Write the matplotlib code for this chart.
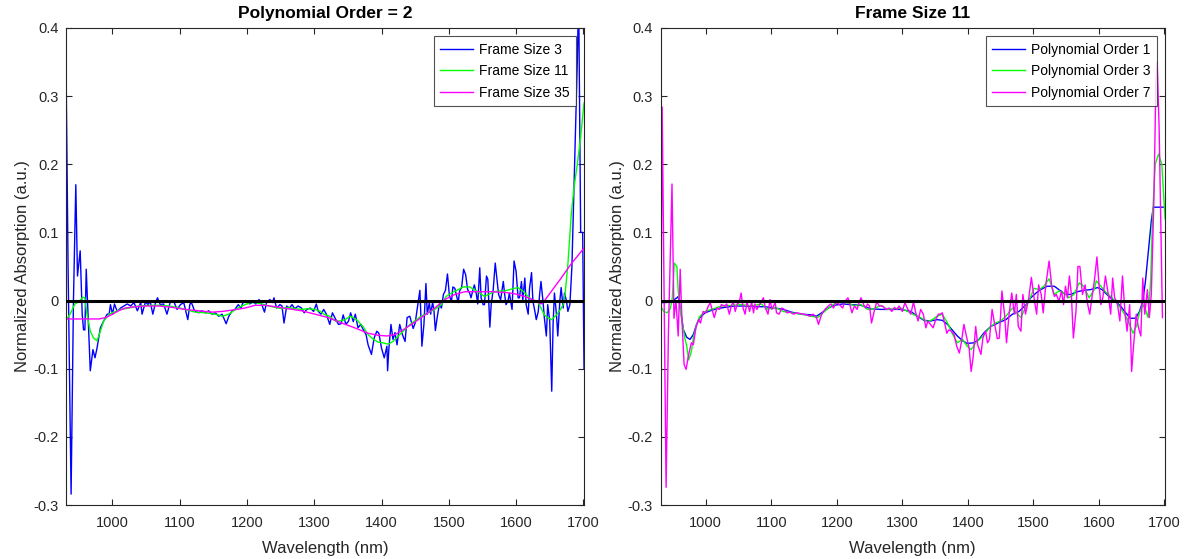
import matplotlib
matplotlib.use('Agg')
import matplotlib.pyplot as plt

plt.rcParams['font.family'] = ['Liberation Sans', 'DejaVu Sans']

# ---- left panel: polynomial order 2, different frame sizes ----
wl_fs3 = [931, 934, 938.5, 942, 945.5, 948, 952, 955, 957, 959, 961, 964, 967, 971, 974, 977, 982, 987, 992, 995,
          997, 1000, 1003, 1007, 1012, 1017, 1022, 1027, 1032, 1037, 1042, 1044, 1049, 1053, 1056, 1060, 1064, 1067,
          1071, 1076, 1081, 1086, 1091, 1096, 1101, 1106, 1112, 1115, 1117, 1122, 1128, 1133, 1138, 1143, 1148, 1153,
          1158, 1163, 1169, 1173, 1178, 1182, 1187, 1191, 1194, 1199, 1204, 1209, 1213, 1218, 1222, 1226, 1229, 1234,
          1238, 1240, 1244, 1249, 1252, 1255, 1259, 1263, 1267, 1271, 1276, 1281, 1285, 1289, 1294, 1299, 1303, 1306,
          1310, 1314, 1318, 1323, 1327, 1331, 1336, 1340, 1343, 1347, 1351, 1354, 1358, 1361, 1365, 1369, 1373, 1377,
          1380, 1385, 1389, 1393, 1396, 1400, 1404, 1408, 1409, 1411, 1414, 1417, 1420, 1423, 1427, 1431, 1435, 1438,
          1442, 1447, 1450, 1454, 1457, 1459, 1460, 1463, 1466, 1468, 1471, 1473, 1476, 1478, 1480, 1483, 1486, 1489,
          1492, 1495, 1498, 1501, 1504, 1506, 1509, 1511, 1514, 1516, 1519, 1522, 1525, 1528, 1531, 1533, 1536, 1538,
          1541, 1543, 1546, 1548, 1551, 1553, 1556, 1558, 1561, 1563, 1566, 1569, 1572, 1574, 1577, 1581, 1583, 1585,
          1588, 1590, 1594, 1597, 1600, 1603, 1605, 1608, 1610, 1613, 1615, 1618, 1620, 1623, 1625, 1628, 1630, 1633,
          1635, 1637, 1640, 1642, 1645, 1647, 1650, 1653, 1655, 1657, 1660, 1662, 1665, 1667, 1670, 1672, 1675, 1677,
          1680, 1683, 1687, 1691, 1693, 1696, 1699, 1701]
fs3 = [0.343, 0.05, -0.284, 0.0, 0.17, 0.036, 0.073, -0.02, -0.043, -0.043, 0.046, -0.03, -0.103, -0.072, -0.084,
       -0.070, -0.040, -0.030, -0.020, -0.020, -0.006, -0.020, -0.005, -0.016, -0.011, -0.008, -0.005, -0.008, -0.003,
       -0.015, -0.003, -0.020, -0.002, -0.006, -0.001, -0.020, -0.003, 0.004, -0.006, -0.005, -0.020, -0.002, -0.001,
       -0.013, -0.006, -0.003, -0.028, -0.006, -0.002, -0.015, -0.018, -0.015, -0.018, -0.015, -0.020, -0.018, -0.023,
       -0.020, -0.034, -0.023, -0.015, -0.013, -0.006, -0.011, -0.003, -0.002, -0.005, -0.002, -0.005, 0.0015, -0.006,
       -0.017, -0.003, 0.0015, -0.003, 0.004, -0.011, -0.006, -0.008, -0.033, -0.008, -0.011, -0.006, -0.012, -0.008,
       -0.011, -0.018, -0.013, -0.011, -0.016, -0.005, -0.016, -0.020, -0.013, -0.020, -0.035, -0.018, -0.026, -0.035,
       -0.034, -0.021, -0.035, -0.030, -0.018, -0.031, -0.020, -0.040, -0.035, -0.043, -0.050, -0.065, -0.079, -0.055,
       -0.045, -0.048, -0.070, -0.084, -0.067, -0.103, -0.069, -0.035, -0.057, -0.047, -0.065, -0.035, -0.050, -0.060,
       -0.025, -0.023, -0.041, -0.033, -0.006, 0.015, -0.035, -0.067, -0.035, 0.025, -0.020, -0.003, -0.020, -0.002,
       -0.016, -0.044, -0.023, -0.005, -0.011, 0.009, 0.015, 0.039, 0.006, -0.001, 0.020, 0.018, 0.009, -0.003, 0.014,
       0.019, 0.046, 0.038, 0.016, 0.011, 0.004, 0.016, 0.023, 0.009, -0.005, 0.048, 0.004, -0.006, -0.006, 0.036,
       0.031, -0.039, -0.006, 0.016, 0.055, 0.028, 0.009, 0.001, 0.028, 0.009, -0.006, -0.001, 0.011, -0.013, 0.058,
       0.043, 0.004, 0.004, 0.028, 0.001, 0.033, -0.006, -0.020, 0.018, 0.041, -0.001, -0.016, -0.028, -0.016, 0.009,
       0.028, -0.001, -0.025, -0.052, -0.006, -0.030, -0.133, -0.035, 0.011, -0.020, -0.052, -0.001, 0.019, -0.011,
       0.011, -0.001, -0.016, -0.006, 0.05, 0.2, 0.35, 0.45, 0.10, 0.10, -0.10]

wl_fs11 = [931, 938, 944, 950, 956, 959, 962, 967, 972, 977, 982, 987, 995, 1002, 1012, 1024, 1039, 1054, 1069, 1084,
           1096, 1108, 1123, 1138, 1153, 1163, 1173, 1183, 1192, 1205, 1212, 1222, 1232, 1242, 1252, 1261, 1271,
           1281, 1291, 1301, 1309, 1316, 1323, 1331, 1338, 1346, 1353, 1358, 1365, 1373, 1380, 1388, 1395, 1402,
           1410, 1417, 1425, 1432, 1440, 1449, 1459, 1469, 1479, 1489, 1496, 1504, 1514, 1521, 1531, 1538, 1546,
           1553, 1561, 1568, 1576, 1583, 1590, 1598, 1603, 1610, 1618, 1625, 1633, 1637, 1642, 1647, 1653, 1660,
           1666, 1670, 1673, 1677, 1682, 1686, 1691, 1696, 1701]
fs11 = [-0.029, -0.018, -0.005, -0.002, 0.005, 0.004, -0.020, -0.045, -0.055, -0.059, -0.045, -0.030, -0.020, -0.017,
        -0.013, -0.011, -0.008, -0.007, -0.007, -0.008, -0.010, -0.013, -0.017, -0.018, -0.020, -0.023, -0.020, -0.013,
        -0.008, -0.003, -0.003, -0.005, -0.008, -0.010, -0.012, -0.010, -0.012, -0.013, -0.012, -0.013, -0.016, -0.021,
        -0.023, -0.030, -0.030, -0.028, -0.023, -0.025, -0.030, -0.039, -0.050, -0.057, -0.061, -0.062, -0.064, -0.060,
        -0.052, -0.045, -0.037, -0.030, -0.023, -0.018, -0.013, -0.006, 0.006, 0.011, 0.016, 0.020, 0.020, 0.016, 0.011,
        0.006, 0.010, 0.013, 0.014, 0.014, 0.016, 0.018, 0.019, 0.014, 0.006, 0.0, -0.003, -0.011, -0.021, -0.025,
        -0.028, -0.021, -0.013, -0.006, 0.011, 0.053, 0.126, 0.165, 0.20, 0.24, 0.29]

wl_fs35 = [931, 950, 980, 990, 1000, 1009, 1019, 1034, 1049, 1069, 1089, 1108, 1128, 1148, 1163, 1178, 1197, 1212,
           1227, 1242, 1261, 1281, 1301, 1321, 1341, 1360, 1380, 1395, 1408, 1420, 1432, 1446, 1459, 1479, 1494,
           1509, 1524, 1543, 1563, 1583, 1598, 1613, 1628, 1637, 1641, 1652, 1667, 1682, 1701]
fs35 = [-0.027, -0.027, -0.027, -0.025, -0.020, -0.015, -0.011, -0.009, -0.008, -0.008, -0.010, -0.013, -0.015,
        -0.017, -0.016, -0.014, -0.011, -0.007, -0.007, -0.009, -0.012, -0.015, -0.020, -0.025, -0.033, -0.040, -0.048,
        -0.051, -0.052, -0.050, -0.043, -0.034, -0.025, -0.011, 0.0015, 0.009, 0.013, 0.013, 0.013, 0.012, 0.010,
        0.006, 0.0, -0.005, -0.002, 0.013, 0.033, 0.054, 0.077]

# ---- right panel: frame size 11, different polynomial orders ----
wl_po1 = [931, 938, 946, 952, 956, 958, 962, 966, 971, 976, 981, 986, 991, 999, 1007, 1017, 1029, 1045, 1060, 1075,
          1090, 1106, 1118, 1131, 1146, 1161, 1169, 1177, 1187, 1196, 1209, 1222, 1237, 1252, 1267, 1282, 1298, 1313,
          1323, 1333, 1343, 1353, 1361, 1369, 1376, 1384, 1392, 1399, 1409, 1417, 1425, 1435, 1448, 1458, 1468, 1478,
          1489, 1496, 1504, 1511, 1521, 1532, 1539, 1549, 1557, 1567, 1577, 1587, 1598, 1605, 1610, 1618, 1626, 1633,
          1641, 1648, 1656, 1662, 1667, 1671, 1676, 1680, 1683, 1701]
po1 = [-0.003, -0.003, -0.002, 0.0015, 0.004, 0.006, -0.016, -0.043, -0.054, -0.057, -0.050, -0.035, -0.025, -0.018,
       -0.015, -0.012, -0.010, -0.008, -0.008, -0.009, -0.009, -0.011, -0.013, -0.017, -0.020, -0.021, -0.023, -0.018,
       -0.011, -0.007, -0.005, -0.006, -0.007, -0.012, -0.013, -0.013, -0.013, -0.016, -0.023, -0.029, -0.030, -0.028,
       -0.029, -0.035, -0.043, -0.052, -0.059, -0.063, -0.062, -0.057, -0.047, -0.038, -0.032, -0.028, -0.020, -0.016,
       -0.006, 0.004, 0.011, 0.016, 0.021, 0.021, 0.016, 0.009, 0.009, 0.013, 0.015, 0.016, 0.019, 0.016, 0.011, 0.004,
       -0.002, -0.008, -0.018, -0.026, -0.026, -0.016, -0.001, 0.028, 0.077, 0.117, 0.137, 0.137]

wl_po3 = [931, 936, 941, 946, 949, 952, 956, 958, 962, 968, 971, 974, 978, 981, 986, 991, 999, 1012, 1024, 1040, 1055,
          1070, 1085, 1095, 1106, 1118, 1131, 1146, 1161, 1171, 1179, 1187, 1196, 1206, 1216, 1227, 1237, 1247, 1257,
          1267, 1277, 1288, 1298, 1308, 1318, 1328, 1338, 1346, 1353, 1361, 1369, 1376, 1384, 1392, 1399, 1405, 1412,
          1420, 1427, 1435, 1442, 1450, 1458, 1468, 1476, 1481, 1489, 1496, 1501, 1509, 1516, 1524, 1532, 1539, 1547,
          1554, 1562, 1570, 1577, 1585, 1593, 1596, 1603, 1610, 1618, 1626, 1633, 1641, 1647, 1652, 1657, 1662, 1667,
          1671, 1675, 1679, 1682, 1686, 1691, 1696, 1701]
po3 = [-0.008, -0.016, -0.018, -0.012, 0.004, 0.055, 0.050, 0.014, -0.020, -0.055, -0.067, -0.087, -0.075, -0.055,
       -0.035, -0.023, -0.016, -0.012, -0.008, -0.007, -0.006, -0.008, -0.005, -0.013, -0.010, -0.016, -0.018, -0.020,
       -0.023, -0.025, -0.018, -0.011, -0.005, -0.002, -0.003, -0.008, -0.006, -0.013, -0.012, -0.007, -0.013, -0.012,
       -0.011, -0.016, -0.021, -0.025, -0.031, -0.028, -0.023, -0.020, -0.033, -0.048, -0.062, -0.057, -0.067, -0.072,
       -0.062, -0.055, -0.047, -0.038, -0.033, -0.030, -0.023, -0.011, -0.020, -0.025, -0.008, 0.006, 0.018, 0.016,
       0.021, 0.032, 0.009, 0.014, 0.011, 0.004, 0.009, 0.026, 0.021, 0.004, 0.016, 0.029, 0.021, 0.013, 0.006,
       -0.002, -0.011, -0.023, -0.035, -0.048, -0.038, -0.018, -0.006, -0.013, -0.025, 0.029, 0.126, 0.20, 0.215,
       0.20, 0.12]

wl_po7 = [931, 933.5, 939.5, 943, 948.5, 951.5, 954.5, 958, 961, 963.5, 967, 970, 974, 978, 981, 985, 989, 992, 996,
          1000, 1004, 1007, 1009, 1013, 1017, 1021, 1024, 1029, 1032, 1036, 1039, 1042, 1045, 1048, 1051, 1054, 1057,
          1060, 1063, 1067, 1070, 1073, 1075, 1078, 1081, 1084, 1088, 1091, 1095, 1098, 1101, 1106, 1108, 1112, 1116,
          1120, 1124, 1129, 1134, 1139, 1144, 1149, 1154, 1159, 1164, 1169, 1172, 1177, 1182, 1187, 1191, 1195, 1199,
          1204, 1209, 1212, 1217, 1219, 1223, 1227, 1231, 1234, 1237, 1241, 1244, 1247, 1250, 1253, 1257, 1261, 1265,
          1270, 1275, 1280, 1284, 1288, 1292, 1295, 1300, 1304, 1308, 1313, 1317, 1321, 1324, 1328, 1332, 1336, 1339,
          1343, 1347, 1351, 1355, 1358, 1361, 1365, 1368, 1371, 1375, 1379, 1383, 1387, 1390, 1394, 1398, 1402, 1405,
          1408, 1412, 1415, 1420, 1423, 1427, 1430, 1433, 1437, 1441, 1445, 1448, 1452, 1456, 1459, 1463, 1467, 1471,
          1474, 1477, 1481, 1484, 1488, 1493, 1497, 1501, 1505, 1508, 1512, 1515, 1519, 1524, 1528, 1532, 1535, 1539,
          1543, 1546, 1549, 1552, 1555, 1558, 1561, 1565, 1568, 1571, 1575, 1579, 1582, 1586, 1590, 1593, 1597, 1600,
          1603, 1606, 1610, 1614, 1618, 1621, 1624, 1628, 1632, 1636, 1640, 1643, 1647, 1650, 1653, 1657, 1660, 1664,
          1667, 1670, 1674, 1677, 1680, 1684, 1687, 1689, 1692, 1697]
po7 = [-0.174, 0.284, -0.274, -0.05, 0.171, -0.026, 0.0, -0.052, 0.046, -0.025, -0.094, -0.101, -0.079, -0.062,
       -0.065, -0.040, -0.028, -0.033, -0.016, -0.018, -0.008, -0.003, -0.011, -0.025, -0.011, -0.013, -0.006, -0.008,
       -0.005, -0.020, -0.008, -0.002, -0.016, -0.005, -0.003, 0.011, -0.011, -0.020, -0.002, -0.016, -0.002, -0.018,
       -0.005, -0.013, -0.008, -0.003, 0.004, -0.011, -0.020, 0.0015, -0.013, -0.003, -0.018, -0.020, -0.011, -0.013,
       -0.018, -0.017, -0.020, -0.018, -0.019, -0.020, -0.021, -0.023, -0.020, -0.025, -0.035, -0.020, -0.013, -0.008,
       -0.005, -0.011, -0.002, -0.006, -0.011, -0.002, 0.004, -0.002, -0.018, -0.008, -0.013, -0.003, 0.004, -0.006,
       -0.011, -0.005, -0.008, -0.033, -0.016, -0.002, -0.008, -0.008, -0.013, -0.011, -0.016, -0.010, -0.013, -0.008,
       -0.016, -0.003, -0.012, -0.020, -0.002, -0.020, -0.030, -0.013, -0.020, -0.040, -0.030, -0.035, -0.040, -0.028,
       -0.020, -0.020, -0.018, -0.035, -0.048, -0.043, -0.045, -0.050, -0.067, -0.077, -0.062, -0.035, -0.053, -0.070,
       -0.104, -0.084, -0.038, -0.065, -0.079, -0.055, -0.045, -0.062, -0.057, -0.013, -0.035, -0.056, -0.055, 0.014,
       -0.020, -0.062, -0.020, 0.011, -0.020, 0.009, -0.038, -0.045, 0.009, -0.020, 0.004, 0.034, 0.004, -0.020, 0.023,
       0.009, -0.018, 0.023, 0.058, 0.021, 0.006, 0.009, -0.001, 0.014, -0.006, 0.021, 0.004, 0.036, 0.009, -0.055,
       -0.016, 0.050, 0.050, 0.009, 0.023, -0.001, -0.020, 0.009, 0.028, 0.064, 0.026, -0.006, 0.004, 0.036, 0.011,
       -0.020, 0.033, 0.004, -0.003, -0.030, 0.036, -0.020, -0.045, -0.006, -0.104, -0.065, -0.020, -0.038, -0.052,
       0.033, -0.020, 0.016, -0.025, 0.009, 0.15, 0.32, 0.35, 0.25, -0.025]

yticks = [-0.3, -0.2, -0.1, 0, 0.1, 0.2, 0.3, 0.4]
ytick_labels = ['-0.3', '-0.2', '-0.1', '0', '0.1', '0.2', '0.3', '0.4']
xticks = [1000, 1100, 1200, 1300, 1400, 1500, 1600, 1700]

fig = plt.figure(figsize=(11.88, 5.59), dpi=100)
ax1 = fig.add_axes([0.0556, 0.0966, 0.436, 0.8534])
ax2 = fig.add_axes([0.556, 0.0966, 0.4247, 0.8534])

panels = [
    (ax1, 'Polynomial Order = 2',
     [(wl_fs3, fs3, 'Frame Size 3'), (wl_fs11, fs11, 'Frame Size 11'), (wl_fs35, fs35, 'Frame Size 35')]),
    (ax2, 'Frame Size 11',
     [(wl_po1, po1, 'Polynomial Order 1'), (wl_po3, po3, 'Polynomial Order 3'), (wl_po7, po7, 'Polynomial Order 7')]),
]
colors = ['#0000ff', '#00ff00', '#ff00ff']

for ax, title, series in panels:
    for (x, y, lab), c in zip(series, colors):
        ax.plot(x, y, color=c, lw=1.0, label=lab)
    ax.axhline(0, color='k', lw=2.2, zorder=5)
    ax.set_xlim(931, 1701)
    ax.set_ylim(-0.3, 0.4)
    ax.set_xticks(xticks)
    ax.set_yticks(yticks)
    ax.set_yticklabels(ytick_labels)
    ax.tick_params(direction='in', length=4, width=0.8, top=True, right=True,
                   labelsize=10.5, colors='#262626')
    ax.tick_params(axis='x', pad=7.8)
    ax.tick_params(axis='y', pad=5.5)
    for sp in ax.spines.values():
        sp.set_color('#262626')
        sp.set_linewidth(0.8)
    ax.set_xlabel('Wavelength (nm)', fontsize=12, color='#262626', labelpad=8)
    ax.set_ylabel('Normalized Absorption (a.u.)', fontsize=12, color='#262626', labelpad=2)
    ax.set_title(title, fontsize=12.5, fontweight='bold', pad=7)
    leg = ax.legend(loc='upper right', fontsize=10, frameon=True, fancybox=False,
                    edgecolor='#262626', handlelength=2.4, handletextpad=0.4,
                    borderaxespad=0.6, labelspacing=0.55, borderpad=0.45)
    leg.get_frame().set_linewidth(0.8)

fig.savefig('out.png', dpi=100)
